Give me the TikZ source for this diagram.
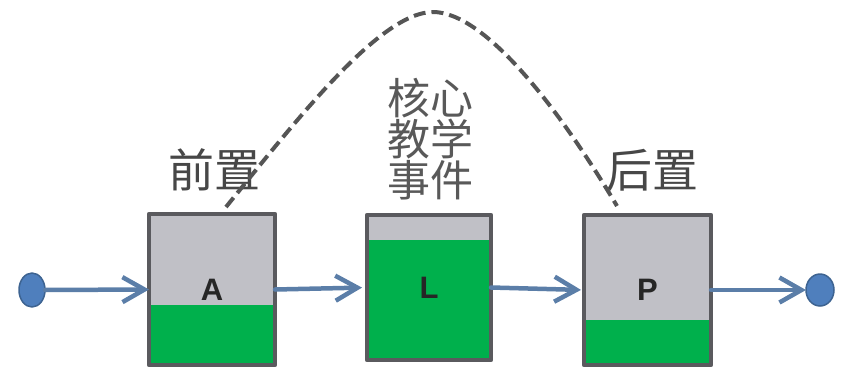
\documentclass[tikz,border=0pt]{standalone}
\usepackage{fontspec}
\setmainfont{Liberation Sans}
\newfontfamily\cjk{Noto Sans CJK SC}
\usetikzlibrary{arrows.meta, shapes.geometric}

\definecolor{stagegray}{HTML}{C0C0C6}
\definecolor{stagegreen}{HTML}{00B04C}
\definecolor{boxline}{HTML}{5A5A5E}
\definecolor{flowblue}{HTML}{5B7EA8}
\definecolor{dotblue}{HTML}{4F7FBD}
\definecolor{dotline}{HTML}{3D6391}
\definecolor{curvegray}{HTML}{555555}

\tikzset{
  stagebox/.style={draw=boxline, line width=4.5pt, fill=stagegray,
    inner sep=0pt, outer sep=0pt, text=black!85,
    font=\bfseries\fontsize{31}{31}\selectfont,
    path picture={\fill[stagegreen] (path picture bounding box.south west)
      rectangle ([yshift=#1]path picture bounding box.south east);}},
  enddot/.style={ellipse, draw=dotline, line width=1.5pt, fill=dotblue,
    inner sep=0pt, outer sep=0pt},
  flow/.style={draw=flowblue, line width=4.5pt,
    -{Straight Barb[length=22pt, width=25pt]}},
  phase/.style={font=\cjk\fontsize{46}{46}\selectfont, text=black!72,
    inner sep=0pt},
}

\begin{document}
\begin{tikzpicture}[x=1pt, y=-1pt, line join=round, line cap=round]
    \useasboundingbox (0,0) rectangle (841,370);

    % start and end points
    \node[enddot, minimum width=26pt, minimum height=34pt] (start) at (32,290) {};
    \node[enddot, minimum width=28pt, minimum height=32pt] (end) at (820,290) {};

    % the three boxes
    \node[stagebox=60pt, minimum width=126pt, minimum height=151pt] (A) at (212,289.5) {A};
    \node[stagebox=120pt, minimum width=124pt, minimum height=145pt] (L) at (429,287.5) {L};
    \node[stagebox=45pt, minimum width=127pt, minimum height=150pt] (P) at (647.5,290) {P};

    % labels
    \node[phase] (pre) at (214,170) {前置};
    \node[phase, font=\cjk\fontsize{43}{39}\selectfont, text=black!65, align=center] (core) at (430,139) {核心\\教学\\事件};
    \node[phase] (post) at (652,170) {后置};

    % arrows
    \draw[flow] (start.east) -- (A.west);
    \draw[flow, shorten >=5pt] (A.east) -- (L.west);
    \draw[flow, shorten >=3pt] (L.east) -- (P.west);
    \draw[flow] (P.east) -- (end.west);

    % dashed curve
    \coordinate (pre end) at (226,207);
    \coordinate (top) at (433,12);
    \coordinate (post end) at (617,206);
    \draw[curvegray, line width=4pt, dash pattern=on 12pt off 6pt, line cap=butt]
      (pre end) .. controls (295,122) and (380,12) .. (top)
      .. controls (485,12) and (560,110) .. (post end);
\end{tikzpicture}
\end{document}
